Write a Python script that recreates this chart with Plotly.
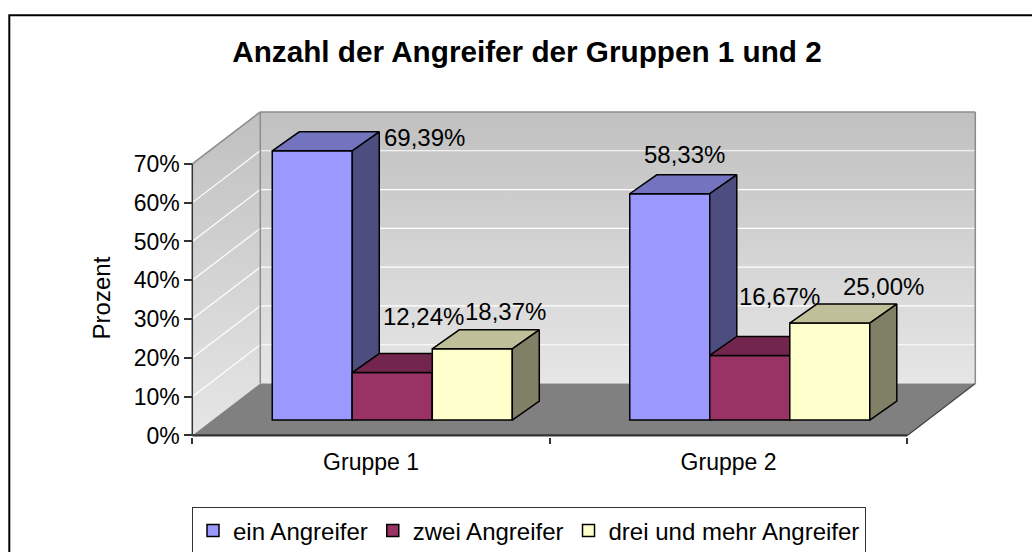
import plotly.graph_objects as go

# ---------------- data ----------------
CATEGORIES = ["Gruppe 1", "Gruppe 2"]
SERIES = ["ein Angreifer", "zwei Angreifer", "drei und mehr Angreifer"]
EIN_ANGREIFER = [69.39, 58.33]
ZWEI_ANGREIFER = [12.24, 16.67]
DREI_MEHR_ANGREIFER = [18.37, 25.00]
Y_TICKS = [0, 10, 20, 30, 40, 50, 60, 70]
Y_TICK_LABELS = [f"{t}%" for t in Y_TICKS]
TITLE = "Anzahl der Angreifer der Gruppen 1 und 2"
Y_TITLE = "Prozent"

VALUES = [EIN_ANGREIFER, ZWEI_ANGREIFER, DREI_MEHR_ANGREIFER]

# ---------------- style ----------------
FONT = "Liberation Sans, Arial, sans-serif"
FRONT = ["#9999FF", "#993366", "#FFFFCC"]
TOP = ["#7373BF", "#73264D", "#BFBF99"]
SIDE = ["#4D4D80", "#4D1A33", "#808066"]
# pixel shifts of the value labels (x, y) relative to bar top-front centre
LABEL_SHIFT = [
    [(112, 13), (15, 39)],
    [(31, 56), (30, 59)],
    [(33, 37), (54, 37)],
]

# geometry (category units horizontally, percent vertically)
W = 0.2238          # bar width
FX, FY = 0.0594, 3.96    # bar front plane offset from axis plane
BDX, BDY = 0.0755, 4.89  # bar depth
DX, DY = 0.1902, 13.37   # floor / wall depth
WALL_TOP = 70

XR = [-0.012, 2.2593]
YR = [-0.4, 86.45]

fig = go.Figure()


def poly(xs, ys, fill, line_color=None, line_width=0, xaxis="x", yaxis="y", gradient=None):
    kw = dict(x=xs + [xs[0]], y=ys + [ys[0]], mode="lines", fill="toself",
              showlegend=False, hoverinfo="skip", xaxis=xaxis, yaxis=yaxis,
              line=dict(color=line_color or "rgba(0,0,0,0)", width=line_width))
    if gradient:
        kw["fillgradient"] = dict(type="vertical", colorscale=gradient)
    else:
        kw["fillcolor"] = fill
    fig.add_trace(go.Scatter(**kw))


def seg(x0, y0, x1, y1, color, width):
    fig.add_trace(go.Scatter(x=[x0, x1], y=[y0, y1], mode="lines", showlegend=False,
                             hoverinfo="skip", line=dict(color=color, width=width)))


wall_grad = [[0, "#E6E6E6"], [1, "#C0C0C0"]]
n_cat = len(CATEGORIES)
# left wall
poly([0, 0, DX, DX], [0, WALL_TOP, WALL_TOP + DY, DY], None, gradient=wall_grad)
# back wall
poly([DX, n_cat + DX, n_cat + DX, DX], [DY, DY, WALL_TOP + DY, WALL_TOP + DY], None, gradient=wall_grad)
# floor
poly([0, n_cat, n_cat + DX, DX], [0, 0, DY, DY], "#808080")
# gridlines
for t in Y_TICKS[1:-1]:
    seg(DX, t + DY, n_cat + DX, t + DY, "#FFFFFF", 1.2)
    seg(0, t, DX, t + DY, "#FFFFFF", 1.2)
# wall borders
seg(DX, DY, DX, WALL_TOP + DY, "#8C8C8C", 1.5)
seg(DX, WALL_TOP + DY, n_cat + DX, WALL_TOP + DY, "#8C8C8C", 1.5)
seg(n_cat + DX, WALL_TOP + DY, n_cat + DX, DY, "#8C8C8C", 1.5)
seg(0, WALL_TOP, DX, WALL_TOP + DY, "#8C8C8C", 1.5)
seg(n_cat, 0, n_cat + DX, DY, "#404040", 1.2)
seg(0, 0, n_cat, 0, "#333333", 2.2)
seg(0, 0, 0, WALL_TOP, "#333333", 1.5)

# bars: one overlay subplot per series (painter's order)
annotations = []
for s, vals in enumerate(VALUES):
    xa, ya = f"x{s + 2}", f"y{s + 2}"
    centers = [c + 0.5 - 1.5 * W + s * W + FX + W / 2 for c in range(n_cat)]
    fig.add_trace(go.Bar(
        x=centers, y=vals, base=[FY] * n_cat, width=W, name=SERIES[s],
        marker=dict(color=FRONT[s], line=dict(color="#000000", width=1.5)),
        xaxis=xa, yaxis=ya, hoverinfo="skip"))
    for c, v in enumerate(vals):
        x0 = centers[c] - W / 2
        x1 = x0 + W
        y0 = FY
        y1 = FY + v
        poly([x0, x1, x1 + BDX, x0 + BDX], [y1, y1, y1 + BDY, y1 + BDY], TOP[s],
             "#000000", 1.5, xa, ya)
        poly([x1, x1 + BDX, x1 + BDX, x1], [y0, y0 + BDY, y1 + BDY, y1], SIDE[s],
             "#000000", 1.5, xa, ya)
        sx, sy = LABEL_SHIFT[s][c]
        annotations.append(dict(
            x=centers[c], y=y1, xref="x", yref="y", text=f"{v:.2f}".replace(".", ",") + "%",
            showarrow=False, xshift=sx, yshift=sy, xanchor="center", yanchor="middle",
            font=dict(family=FONT, size=24, color="#000000")))

annotations.append(dict(
    x=(101.7 - 188) / 812, y=(437.5 - 298) / 337.5, xref="paper", yref="paper",
    text=Y_TITLE, textangle=-90, showarrow=False, xanchor="center", yanchor="middle",
    font=dict(family=FONT, size=24, color="#000000")))

hidden = dict(range=XR, visible=False, showgrid=False, zeroline=False, fixedrange=True)
hidden_y = dict(range=YR, visible=False, showgrid=False, zeroline=False, fixedrange=True)

fig.update_layout(
    width=1032, height=552,
    margin=dict(l=188, r=32, t=100, b=114.5, autoexpand=False),
    paper_bgcolor="#FFFFFF", plot_bgcolor="#FFFFFF",
    barmode="overlay",
    font=dict(family=FONT, color="#000000"),
    title=dict(text=f"<b>{TITLE}</b>", x=527 / 1032, xref="container", xanchor="center",
               y=1 - 52 / 552, yref="container", yanchor="middle",
               font=dict(family=FONT, size=29.7, color="#000000")),
    xaxis=dict(range=XR, tickmode="array", tickvals=[0, 1, 2], ticktext=["", "", ""],
               ticks="outside", ticklen=6, tickwidth=1.5, tickcolor="#333333",
               showgrid=False, zeroline=False, showline=False, fixedrange=True),
    yaxis=dict(range=YR, anchor="free", position=(192.3 - 188) / 812,
               tickmode="array", tickvals=Y_TICKS, ticktext=Y_TICK_LABELS,
               ticks="outside", ticklen=8, tickwidth=1.5, tickcolor="#333333",
               tickfont=dict(family=FONT, size=23, color="#000000"),
               showgrid=False, zeroline=False, showline=False, fixedrange=True),
    xaxis2=dict(range=XR, overlaying="x", anchor="y2", side="bottom",
                tickmode="array", tickvals=[c + 0.5 for c in range(n_cat)], ticktext=CATEGORIES,
                ticks="", ticklabelstandoff=9,
                tickfont=dict(family=FONT, size=23, color="#000000"),
                showgrid=False, zeroline=False, showline=False, fixedrange=True),
    yaxis2=dict(overlaying="y", **hidden_y),
    xaxis3=dict(overlaying="x", anchor="y3", **hidden),
    yaxis3=dict(overlaying="y", **hidden_y),
    xaxis4=dict(overlaying="x", anchor="y4", **hidden),
    yaxis4=dict(overlaying="y", **hidden_y),
    legend=dict(orientation="h", x=(192 - 188) / 812, xanchor="left",
                y=(437.5 - 508) / 337.5, yanchor="top",
                bordercolor="#333333", borderwidth=1, bgcolor="#FFFFFF",
                font=dict(family=FONT, size=24, color="#000000"),
                itemclick=False, itemdoubleclick=False),
    annotations=annotations,
    shapes=[dict(type="rect", xref="paper", yref="paper",
                 x0=(9.3 - 188) / 812, x1=(1045 - 188) / 812,
                 y0=(437.5 - 560) / 337.5, y1=(437.5 - 15) / 337.5,
                 line=dict(color="#000000", width=2), fillcolor="rgba(0,0,0,0)", layer="below")],
)

fig.write_html("out.html", config={"displayModeBar": False},
               post_script="document.body.style.margin='0';document.body.style.overflow='hidden';")
